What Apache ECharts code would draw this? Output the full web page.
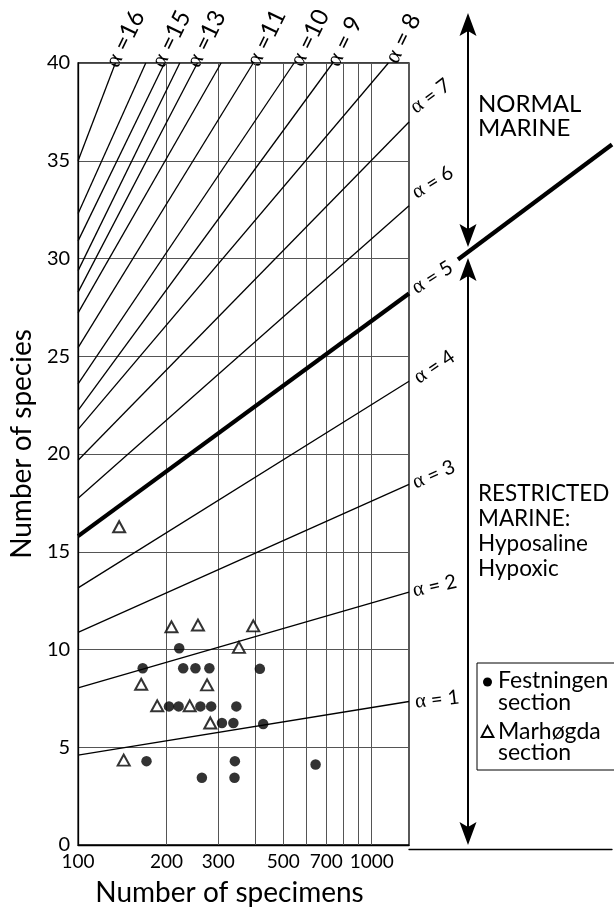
<!DOCTYPE html>
<html>
<head>
<meta charset="utf-8">
<script src="https://cdn.jsdelivr.net/npm/echarts@6/dist/echarts.min.js"></script>
<style>
html,body{margin:0;padding:0;background:#fff;}
#chart{width:614px;height:912px;}
</style>
</head>
<body>
<div id="chart"></div>
<script>
// ---- data ----
const xTickLabels = [100, 200, 300, 500, 700, 1000];
const xGridValues = [200, 300, 400, 500, 600, 700, 800, 900, 1000];
const yTickLabels = [0, 5, 10, 15, 20, 25, 30, 35, 40];

// Fisher alpha lines: start at N = 100, end at (endN, endS)
const alphaStartN = 100;
const alphaStartS = [4.6, 8.04, 10.88, 13.15, 15.8, 17.74, 19.68, 21.26, 22.23, 23.59, 25.44, 27.22, 28.28, 29.38, 30.9, 32.3, 35.0];
const alphaEndN   = [1340, 1340, 1340, 1340, 1340, 1340, 1340, 1140, 737, 544, 395, 307, 255, 222, 197, 170, 134];
const alphaEndS   = [7.34, 12.94, 18.45, 23.72, 28.21, 32.70, 36.98, 40, 40, 40, 40, 40, 40, 40, 40, 40, 40];
const boldLineIndex = 4; // alpha = 5
// continuation of the alpha = 5 line outside the plot
const boldExtN = [1962, 6510];
const boldExtS = [30.0, 35.85];

// Festningen section (filled circles)
const festN = [221, 166, 228, 251, 280, 416, 204, 220, 261, 284, 346, 309, 338, 427, 171, 342, 644, 264, 341];
const festS = [10.06, 9.04, 9.04, 9.04, 9.04, 9.01, 7.09, 7.09, 7.09, 7.09, 7.09, 6.24, 6.24, 6.19, 4.29, 4.29, 4.12, 3.44, 3.44];
// Marhøgda section (open triangles)
const marhN = [208, 256, 395, 353, 164, 275, 186, 240, 282, 143, 138];
const marhS = [11.16, 11.25, 11.21, 10.11, 8.22, 8.19, 7.12, 7.12, 6.24, 4.34, 16.28];

const rightLabels = ['{a|α} = 1', '{a|α} = 2', '{a|α} = 3', '{a|α} = 4', '{a|α} = 5', '{a|α} = 6', '{a|α} = 7'];
const topLabels = ['{a|α} =16', '{a|α} =15', '{a|α} =13', '{a|α} =11', '{a|α} =10', '{a|α} = 9', '{a|α} = 8'];

// ---- chart ----
const SANS = 'Lato, "Noto Sans", sans-serif';
const SERIF = '"Liberation Serif", "DejaVu Serif", serif';
const chart = echarts.init(document.getElementById('chart'), null, {renderer: 'canvas'});

const series = [];
alphaStartS.forEach((s0, i) => {
  const ser = {
    type: 'line',
    xAxisIndex: 0, yAxisIndex: 0,
    data: [[alphaStartN, s0], [alphaEndN[i], alphaEndS[i]]],
    symbol: 'none',
    silent: true,
    z: 3,
    lineStyle: {color: '#000', width: i === boldLineIndex ? 4.2 : 1.3}
  };
  if (i === 0) {
    ser.markLine = {
      silent: true,
      symbol: ['none', 'none'],
      label: {show: false},
      lineStyle: {color: '#555', width: 1, type: 'solid'},
      z: 1,
      data: xGridValues.map(v => ({xAxis: v}))
    };
  }
  series.push(ser);
});
series.push({
  type: 'line',
  xAxisIndex: 1, yAxisIndex: 1,
  data: boldExtN.map((n, i) => [n, boldExtS[i]]),
  symbol: 'none', silent: true,
  lineStyle: {color: '#000', width: 4.2}
});
series.push({
  name: 'Festningen section',
  type: 'scatter',
  data: festN.map((n, i) => [n, festS[i]]),
  symbol: 'circle', symbolSize: 10.5,
  itemStyle: {color: '#000'},
  z: 5
});
series.push({
  name: 'Marhøgda section',
  type: 'scatter',
  data: marhN.map((n, i) => [n, marhS[i]]),
  symbol: 'triangle', symbolSize: [12, 11],
  itemStyle: {color: '#fff', borderColor: '#000', borderWidth: 2},
  z: 5
});

// annotation graphics
const g = [];
const rightLabelPos = [[415, 702.3, 7], [413.1, 591.1, 13], [413.4, 483.7, 24], [415.9, 379.5, 34], [413.8, 289.7, 33], [413.8, 194.3, 32], [412.7, 109.7, 37]];
rightLabels.forEach((t, i) => {
  const p = rightLabelPos[i];
  g.push({type: 'text', x: p[0], y: p[1], rotation: p[2] * Math.PI / 180,
    style: {text: t, fontFamily: SANS, fontSize: 20, fill: '#000', align: 'left', verticalAlign: 'middle',
      rich: {a: {fontFamily: SERIF, fontSize: 21, fill: '#000'}}}});
});
const topLabelPos = [[112, 66], [158, 66], [193, 66], [253, 65], [296.5, 65], [333, 65], [391.5, 62]];
topLabels.forEach((t, i) => {
  const p = topLabelPos[i];
  g.push({type: 'text', x: p[0], y: p[1], rotation: 64 * Math.PI / 180,
    style: {text: t, fontFamily: SANS, fontSize: 24, fill: '#000', align: 'left', verticalAlign: 'middle',
      rich: {a: {fontFamily: SERIF, fontSize: 23, fill: '#000'}}}});
});

function arrowHead(x, tipY, dir) {
  // dir = -1 points up, +1 points down
  const L = 23, W = 8.5, N = 18;
  return {type: 'polygon', shape: {points: [[x, tipY], [x - W, tipY - dir * L], [x, tipY - dir * N], [x + W, tipY - dir * L]]},
    style: {fill: '#000'}};
}
const AX = 468;
g.push({type: 'line', shape: {x1: AX, y1: 25, x2: AX, y2: 235}, style: {stroke: '#000', lineWidth: 2}});
g.push(arrowHead(AX, 13, -1));
g.push(arrowHead(AX, 247, 1));
g.push({type: 'line', shape: {x1: AX, y1: 270, x2: AX, y2: 833}, style: {stroke: '#000', lineWidth: 2}});
g.push(arrowHead(AX, 258, -1));
g.push(arrowHead(AX, 845, 1));

g.push({type: 'text', x: 478, y: 92, style: {text: 'NORMAL\nMARINE', fontFamily: SANS, fontSize: 24, lineHeight: 24, fill: '#000', align: 'left', verticalAlign: 'top'}});
g.push({type: 'text', x: 478, y: 481, style: {text: 'RESTRICTED\nMARINE:\nHyposaline\nHypoxic', fontFamily: SANS, fontSize: 22.5, lineHeight: 25, fill: '#000', align: 'left', verticalAlign: 'top'}});

// legend box
g.push({type: 'rect', shape: {x: 477, y: 663, width: 160, height: 107}, style: {fill: '#fff', stroke: '#000', lineWidth: 1}});
g.push({type: 'circle', shape: {cx: 487.5, cy: 682, r: 4.5}, style: {fill: '#000'}});
g.push({type: 'polygon', shape: {points: [[487.5, 726], [481.5, 737], [493.5, 737]]}, style: {fill: '#fff', stroke: '#000', lineWidth: 1.8}});
g.push({type: 'text', x: 498, y: 681, style: {text: 'Festningen', fontFamily: SANS, fontSize: 23, fill: '#000', verticalAlign: 'middle'}});
g.push({type: 'text', x: 498, y: 703, style: {text: 'section', fontFamily: SANS, fontSize: 23, fill: '#000', verticalAlign: 'middle'}});
g.push({type: 'text', x: 498, y: 732, style: {text: 'Marhøgda', fontFamily: SANS, fontSize: 23, fill: '#000', verticalAlign: 'middle'}});
g.push({type: 'text', x: 498, y: 753, style: {text: 'section', fontFamily: SANS, fontSize: 23, fill: '#000', verticalAlign: 'middle'}});

const option = {
  backgroundColor: '#fff',
  animation: false,
  grid: [
    {left: 76, right: 205, top: 63, bottom: 63, show: true, borderColor: '#000', borderWidth: 1.3, backgroundColor: 'transparent'},
    {left: 409, right: 2, top: 63, bottom: 63, show: false}
  ],
  xAxis: [
    {
      type: 'log', logBase: 10, min: 100, max: 1340, gridIndex: 0,
      name: 'Number of specimens', nameLocation: 'middle', nameGap: 34,
      nameTextStyle: {fontFamily: SANS, fontSize: 28, color: '#000', padding: [0, 28, 0, 0]},
      axisLine: {show: true, lineStyle: {color: '#000', width: 1.3}},
      axisTick: {show: false},
      splitLine: {show: false},
      minorSplitLine: {show: false},
      axisLabel: {customValues: xTickLabels, formatter: v => String(Math.round(v)),
        fontFamily: SANS, fontSize: 19, color: '#000', margin: 7}
    },
    {
      type: 'log', logBase: 10, min: 1340, max: 6510, gridIndex: 1,
      axisLine: {show: true, lineStyle: {color: '#000', width: 1.3}},
      axisTick: {show: false}, axisLabel: {show: false}, splitLine: {show: false}
    }
  ],
  yAxis: [
    {
      type: 'value', min: 0, max: 40, interval: 5, gridIndex: 0,
      name: 'Number of species', nameLocation: 'middle', nameGap: 42, nameRotate: 90,
      nameTextStyle: {fontFamily: SANS, fontSize: 28, color: '#000', padding: [0, 0, 0, 20]},
      axisLine: {show: true, lineStyle: {color: '#000', width: 1.3}},
      axisTick: {show: false},
      splitLine: {show: true, lineStyle: {color: '#555', width: 1}},
      axisLabel: {fontFamily: SANS, fontSize: 20, color: '#000', margin: 8,
        customValues: yTickLabels}
    },
    {
      type: 'value', min: 0, max: 40, gridIndex: 1, show: false
    }
  ],
  series: series,
  graphic: g
};
chart.setOption(option);
</script>
</body>
</html>
